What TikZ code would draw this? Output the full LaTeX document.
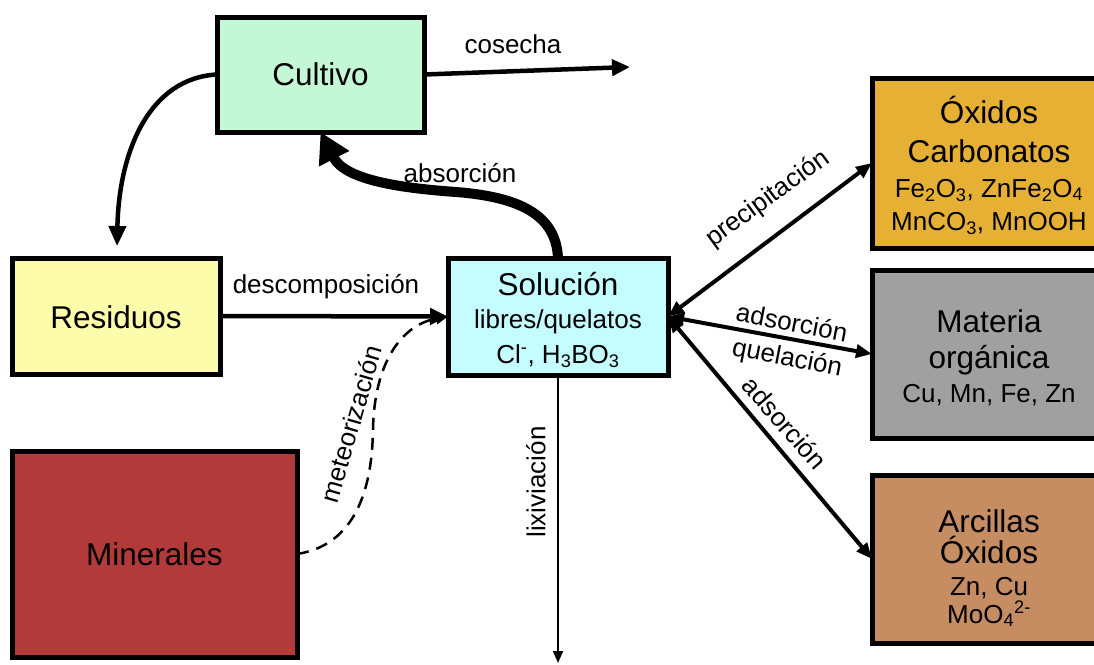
\documentclass[tikz,border=0pt]{standalone}
\usepackage{fontspec}
\setmainfont{Liberation Sans}
\usetikzlibrary{arrows.meta}
\definecolor{cultc}{RGB}{196,247,213}
\definecolor{resc}{RGB}{253,252,170}
\definecolor{solc}{RGB}{196,252,255}
\definecolor{minc}{RGB}{178,58,58}
\definecolor{oxic}{RGB}{230,176,52}
\definecolor{matc}{RGB}{160,160,160}
\definecolor{arcc}{RGB}{198,140,98}
\begin{document}
\begin{tikzpicture}[x=1pt,y=-1pt,
  box/.style={draw=black,line width=5pt,inner sep=0pt,outer sep=0pt},
  tA/.style={font=\fontsize{31.5}{36}\selectfont,anchor=base,inner sep=0pt},
  tB/.style={font=\fontsize{26}{30}\selectfont,anchor=base,inner sep=0pt},
  lab/.style={font=\fontsize{26}{30}\selectfont,inner sep=0pt},
  labb/.style={font=\fontsize{26}{30}\selectfont,inner sep=0pt,anchor=base},
  arr/.style={line width=4.5pt,-{Triangle[length=18pt,width=16pt]}},
  curarr/.style={line width=4.5pt,-{Triangle[length=20pt,width=17pt]}},
  bigarr/.style={line width=10pt,-{Triangle[length=30pt,width=32pt]}},
  duoarr/.style={line width=4pt,{Triangle[length=16pt,width=13pt]}-{Triangle[length=16pt,width=13pt]}},
  thinarr/.style={line width=1.8pt,-{Triangle[length=12pt,width=10pt]}},
  dasharr/.style={line width=2.5pt,dash pattern=on 12pt off 8pt,-{Triangle[length=12pt,width=11pt]}}
]
\clip (0,0) rectangle (1094,664);
\fill[white] (0,0) rectangle (1094,664);

% boxes
\node[box,fill=cultc,minimum width=207pt,minimum height=115pt] (cult) at (320.5,74.5) {};
\node[box,fill=resc,minimum width=208pt,minimum height=116pt] (res) at (116,316) {};
\node[box,fill=solc,minimum width=220pt,minimum height=117pt] (sol) at (558,316.5) {};
\node[box,fill=minc,minimum width=285pt,minimum height=206pt] (min) at (154.5,554) {};
\node[box,fill=oxic,minimum width=234pt,minimum height=170pt] (oxi) at (989,163) {};
\node[box,fill=matc,minimum width=234pt,minimum height=168pt] (mat) at (989,354) {};
\node[box,fill=arcc,minimum width=234pt,minimum height=168pt] (arc) at (989,559) {};

% box texts
\node[tA] (cult-t) at (320.5,85) {Cultivo};
\node[tA] (res-t) at (116,328) {Residuos};
\node[tA] (min-t) at (154.5,565) {Minerales};
\node[tA] (sol-t1) at (558,295) {Solución};
\node[tB] (sol-t2) at (558,328) {libres/quelatos};
\node[tB] (sol-t3) at (558,363) {Cl\textsuperscript{-}, H\textsubscript{3}BO\textsubscript{3}};
\node[tA] (oxi-t1) at (989,123) {Óxidos};
\node[tA] (oxi-t2) at (989,162) {Carbonatos};
\node[tB] (oxi-t3) at (989,197) {Fe\textsubscript{2}O\textsubscript{3}, ZnFe\textsubscript{2}O\textsubscript{4}};
\node[tB] (oxi-t4) at (989,230) {MnCO\textsubscript{3}, MnOOH};
\node[tA] (mat-t1) at (989,332) {Materia};
\node[tA] (mat-t2) at (989,368) {orgánica};
\node[tB] (mat-t3) at (989,402) {Cu, Mn, Fe, Zn};
\node[tA] (arc-t1) at (989,532) {Arcillas};
\node[tA] (arc-t2) at (989,563) {Óxidos};
\node[tB] (arc-t3) at (989,595) {Zn, Cu};
\node[tB] (arc-t4) at (989,623) {MoO\textsubscript{4}\textsuperscript{2-}};

% free ends
\coordinate (cosend) at (630,67);
\coordinate (resin) at (117,246);
\coordinate (lixend) at (558,663);

% connectors
\draw[arr] (cult.east) -- (cosend);
\draw[curarr] (cult.west) .. controls (150,78) and (119,150) .. (resin);
\draw[arr] (res.east) -- (sol.west);
\draw[bigarr] (sol.north) .. controls (556,215) and (520,197) .. (456,192)
   .. controls (400,188) and (345,180) .. (cult.south);
\draw[dasharr] (min.east) .. controls (355,545) and (372,490) .. (373,430)
   .. controls (374,365) and (400,325) .. (sol.west);
\draw[thinarr] (sol.south) -- (lixend);
\draw[duoarr] (sol.east) -- (oxi.west);
\draw[duoarr] (sol.east) -- (mat.west);
\draw[duoarr] (sol.east) -- (arc.west);

% labels
\node[labb] (l-cos) at (513,53) {cosecha};
\node[labb] (l-abs) at (460,182) {absorción};
\node[labb] (l-des) at (326,293) {descomposición};
\node[lab,rotate=74] (l-met) at (351,424) {meteorización};
\node[lab,rotate=90] (l-lix) at (536,482) {lixiviación};
\node[lab,rotate=36] (l-pre) at (768,199) {precipitación};
\node[lab,rotate=-11] (l-ads1) at (792,322) {adsorción};
\node[lab,rotate=-11] (l-que) at (787,359) {quelación};
\node[lab,rotate=-49] (l-ads2) at (785,423) {adsorción};
\end{tikzpicture}
\end{document}
